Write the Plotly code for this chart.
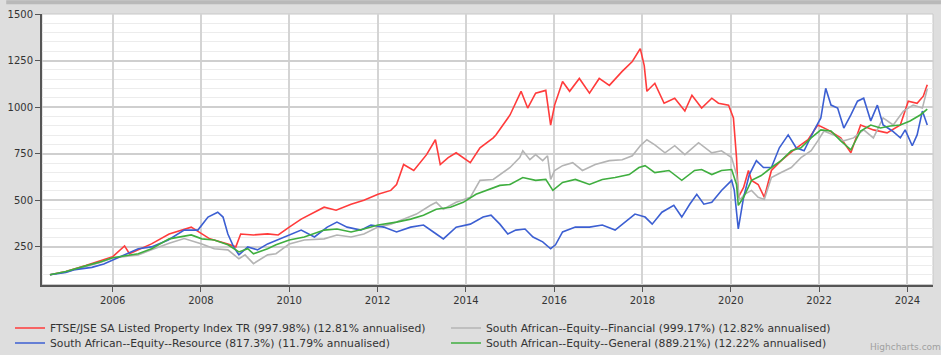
import plotly.graph_objects as go

# ---------------- data ----------------
prop_x = [2004.58, 2004.94, 2005.39, 2005.7, 2006.0, 2006.27, 2006.38, 2006.88, 2007.28, 2007.78,
          2008.02, 2008.2, 2008.61, 2008.79, 2008.90, 2009.19, 2009.51, 2009.75, 2010.0, 2010.27,
          2010.79, 2011.06, 2011.40, 2011.69, 2012.01, 2012.30, 2012.43, 2012.59, 2012.82, 2013.11,
          2013.31, 2013.42, 2013.60, 2013.78, 2014.10, 2014.32, 2014.62, 2014.68, 2015.00, 2015.25,
          2015.40, 2015.58, 2015.81, 2015.92, 2016.01, 2016.19, 2016.35, 2016.57, 2016.80, 2017.02,
          2017.25, 2017.54, 2017.77, 2017.95, 2018.04, 2018.10, 2018.28, 2018.49, 2018.73, 2018.96,
          2019.12, 2019.34, 2019.57, 2019.72, 2019.95, 2020.06, 2020.13, 2020.17, 2020.29, 2020.40,
          2020.47, 2020.62, 2020.76, 2020.92, 2021.14, 2021.43, 2021.75, 2021.97, 2022.20, 2022.49,
          2022.72, 2022.94, 2023.23, 2023.54, 2023.84, 2024.02, 2024.22, 2024.36, 2024.45]
prop_y = [100, 118, 150, 176, 197, 255, 213, 266, 319, 356,
          319, 293, 266, 250, 319, 314, 320, 314, 356, 399,
          463, 447, 479, 500, 532, 553, 585, 692, 660, 745,
          825, 692, 729, 755, 702, 782, 835, 851, 958, 1085,
          995, 1075, 1090, 904, 1011, 1138, 1085, 1154, 1075, 1154,
          1117, 1192, 1245, 1314, 1223, 1085, 1128, 1021, 1048, 979,
          1064, 995, 1048, 1021, 1011, 942, 729, 516, 569, 660,
          607, 585, 516, 660, 713, 771, 825, 904, 878, 835,
          755, 904, 878, 862, 904, 1032, 1021, 1059, 1120]

fin_x = [2004.58, 2004.94, 2005.39, 2005.7, 2006.0, 2006.58, 2006.88, 2007.28, 2007.62, 2008.02,
         2008.3, 2008.61, 2008.86, 2009.0, 2009.19, 2009.51, 2009.7, 2010.0, 2010.34, 2010.79,
         2011.08, 2011.40, 2011.69, 2012.01, 2012.30, 2012.59, 2012.88, 2013.20, 2013.33, 2013.49,
         2013.78, 2014.10, 2014.32, 2014.62, 2014.68, 2015.00, 2015.22, 2015.29, 2015.45, 2015.58,
         2015.74, 2015.85, 2015.92, 2016.01, 2016.19, 2016.42, 2016.64, 2016.93, 2017.25, 2017.54,
         2017.77, 2017.95, 2018.10, 2018.28, 2018.51, 2018.73, 2018.96, 2019.27, 2019.57, 2019.79,
         2020.02, 2020.13, 2020.20, 2020.31, 2020.47, 2020.62, 2020.76, 2020.92, 2021.14, 2021.37,
         2021.59, 2021.82, 2021.97, 2022.11, 2022.33, 2022.56, 2022.78, 2023.01, 2023.23, 2023.45,
         2023.68, 2023.91, 2024.13, 2024.34, 2024.45]
fin_y = [100, 115, 145, 165, 190, 207, 234, 270, 295, 266,
         240, 234, 186, 207, 160, 207, 213, 266, 287, 293,
         314, 303, 319, 356, 372, 399, 426, 473, 489, 452,
         489, 516, 607, 612, 622, 676, 729, 766, 718, 745,
         713, 739, 612, 660, 686, 702, 660, 692, 713, 718,
         739, 793, 825, 798, 755, 793, 745, 809, 755, 766,
         729, 638, 500, 532, 553, 516, 505, 622, 649, 676,
         729, 766, 819, 872, 851, 819, 835, 878, 835, 942,
         904, 979, 1011, 995, 1099]

res_x = [2004.58, 2004.94, 2005.15, 2005.53, 2005.8, 2006.0, 2006.43, 2006.58, 2006.88, 2007.26,
         2007.62, 2007.93, 2008.16, 2008.38, 2008.50, 2008.61, 2008.74, 2008.86, 2009.06, 2009.28,
         2009.51, 2010.0, 2010.27, 2010.57, 2010.86, 2011.08, 2011.31, 2011.62, 2011.85, 2012.14,
         2012.43, 2012.75, 2013.04, 2013.33, 2013.49, 2013.78, 2014.10, 2014.39, 2014.57, 2014.77,
         2014.95, 2015.13, 2015.34, 2015.52, 2015.74, 2015.92, 2016.03, 2016.19, 2016.48, 2016.80,
         2017.09, 2017.38, 2017.61, 2017.83, 2018.06, 2018.22, 2018.44, 2018.71, 2018.89, 2019.07,
         2019.23, 2019.39, 2019.57, 2019.79, 2020.02, 2020.08, 2020.17, 2020.29, 2020.42, 2020.58,
         2020.74, 2020.92, 2021.10, 2021.30, 2021.48, 2021.66, 2021.88, 2022.04, 2022.15, 2022.27,
         2022.42, 2022.56, 2022.72, 2022.87, 2023.01, 2023.17, 2023.32, 2023.45, 2023.66, 2023.84,
         2023.95, 2024.11, 2024.22, 2024.34, 2024.45]
res_y = [100, 112, 128, 140, 158, 180, 223, 240, 250, 287,
         340, 340, 410, 436, 410, 319, 250, 207, 250, 234,
         266, 314, 340, 303, 356, 383, 356, 340, 367, 356,
         330, 356, 367, 319, 293, 356, 372, 410, 420, 372,
         319, 340, 346, 303, 277, 240, 261, 330, 356, 356,
         367, 340, 383, 426, 410, 372, 436, 473, 410, 479,
         532, 479, 489, 553, 607, 553, 346, 516, 638, 713,
         676, 676, 782, 851, 782, 766, 872, 942, 1101, 1011,
         995, 888, 958, 1032, 1048, 926, 1011, 904, 872, 835,
         878, 793, 851, 979, 904]

gen_x = [2004.58, 2004.94, 2005.39, 2005.7, 2006.0, 2006.58, 2006.88, 2007.28, 2007.78, 2008.02,
         2008.3, 2008.61, 2008.86, 2009.06, 2009.19, 2009.51, 2009.7, 2010.0, 2010.34, 2010.79,
         2011.08, 2011.40, 2011.69, 2012.01, 2012.43, 2012.75, 2013.04, 2013.33, 2013.65, 2013.94,
         2014.23, 2014.62, 2014.77, 2015.00, 2015.29, 2015.58, 2015.81, 2015.97, 2016.19, 2016.48,
         2016.80, 2017.09, 2017.38, 2017.70, 2017.92, 2018.06, 2018.28, 2018.60, 2018.89, 2019.18,
         2019.34, 2019.57, 2019.79, 2020.02, 2020.13, 2020.17, 2020.29, 2020.47, 2020.69, 2020.92,
         2021.14, 2021.37, 2021.59, 2021.82, 2022.04, 2022.27, 2022.49, 2022.72, 2022.94, 2023.17,
         2023.39, 2023.61, 2023.84, 2024.06, 2024.29, 2024.45]
gen_y = [100, 118, 148, 168, 192, 213, 240, 293, 314, 293,
         287, 261, 223, 240, 213, 240, 261, 287, 303, 340,
         346, 330, 346, 367, 383, 399, 420, 452, 463, 489,
         532, 569, 580, 585, 622, 607, 612, 553, 596, 612,
         585, 612, 622, 638, 676, 686, 649, 660, 607, 660,
         665, 638, 660, 665, 585, 473, 516, 607, 633, 676,
         713, 766, 782, 835, 878, 872, 819, 771, 872, 904,
         888, 899, 904, 926, 958, 989]

names = [
    "FTSE/JSE SA Listed Property Index TR (997.98%) (12.81% annualised)",
    "South African--Equity--Financial (999.17%) (12.82% annualised)",
    "South African--Equity--Resource (817.3%) (11.79% annualised)",
    "South African--Equity--General (889.21%) (12.22% annualised)",
]
colors = ["#ff3b3b", "#b4b4b4", "#3c5fd2", "#3fae3f"]

year_ticks = [2006, 2008, 2010, 2012, 2014, 2016, 2018, 2020, 2022, 2024]
value_ticks = [250, 500, 750, 1000, 1250, 1500]

# ---------------- figure ----------------
fig = go.Figure()
series = [(prop_x, prop_y), (fin_x, fin_y), (res_x, res_y), (gen_x, gen_y)]
legend_ids = ["legend", "legend", "legend2", "legend2"]
for (xs, ys), nm, c, lg in zip(series, names, colors, legend_ids):
    fig.add_trace(go.Scatter(x=xs, y=ys, mode="lines", name=nm, legend=lg,
                             line=dict(color=c, width=1.6)))

W, H = 941, 355
ml, mr, mt, mb = 36, 8, 14, 67
pw, ph = W - ml - mr, H - mt - mb

legend_common = dict(orientation="h", xref="container", yref="container",
                     x=10 / W, xanchor="left", yanchor="middle",
                     entrywidth=391, entrywidthmode="pixels", itemwidth=30,
                     bgcolor="rgba(0,0,0,0)", font=dict(size=10.8, color="#333333"),
                     tracegroupgap=0)

fig.update_layout(
    width=W, height=H,
    margin=dict(l=ml, r=mr, t=mt, b=mb, pad=0),
    paper_bgcolor="#dedede",
    plot_bgcolor="#ffffff",
    font=dict(family="DejaVu Sans", size=10, color="#333333"),
    showlegend=True,
    legend=dict(legend_common, y=(H - 328) / H),
    legend2=dict(legend_common, y=(H - 343) / H),
    xaxis=dict(range=[2004.4, 2024.58], tickvals=year_ticks,
               ticktext=[str(t) for t in year_ticks],
               showgrid=True, gridcolor="#d4d4d4", gridwidth=1.5,
               zeroline=False, showline=True, linecolor="#555555", linewidth=2,
               ticks="outside", ticklen=5, tickcolor="#555555",
               tickfont=dict(size=10, color="#333333")),
    yaxis=dict(range=[48, 1500], tickvals=value_ticks,
               showgrid=True, gridcolor="#cfcfcf", gridwidth=1.5,
               minor=dict(dtick=50, tick0=0, showgrid=True, gridcolor="#ececec", gridwidth=1),
               zeroline=False, showline=True, linecolor="#555555", linewidth=2,
               ticks="outside", ticklen=5, tickcolor="#555555",
               tickfont=dict(size=10, color="#333333")),
    shapes=[
        dict(type="rect", xref="paper", yref="paper", x0=0, x1=1, y0=0, y1=1,
             line=dict(color="#c8c8c8", width=1), layer="below"),
        dict(type="rect", xref="paper", yref="paper",
             x0=-ml / pw, x1=1 + mr / pw,
             y0=1 + (mt - 4) / ph, y1=1 + mt / ph,
             line=dict(width=0), fillcolor="#b9b9b9", layer="below"),
    ],
    annotations=[
        dict(text="Highcharts.com", xref="paper", yref="paper",
             x=1 + (mr + 2) / pw, y=-(mb - 4) / ph,
             xanchor="right", yanchor="middle", showarrow=False,
             font=dict(size=9, color="#a0a0a0")),
    ],
)

fig.write_html("out.html")
